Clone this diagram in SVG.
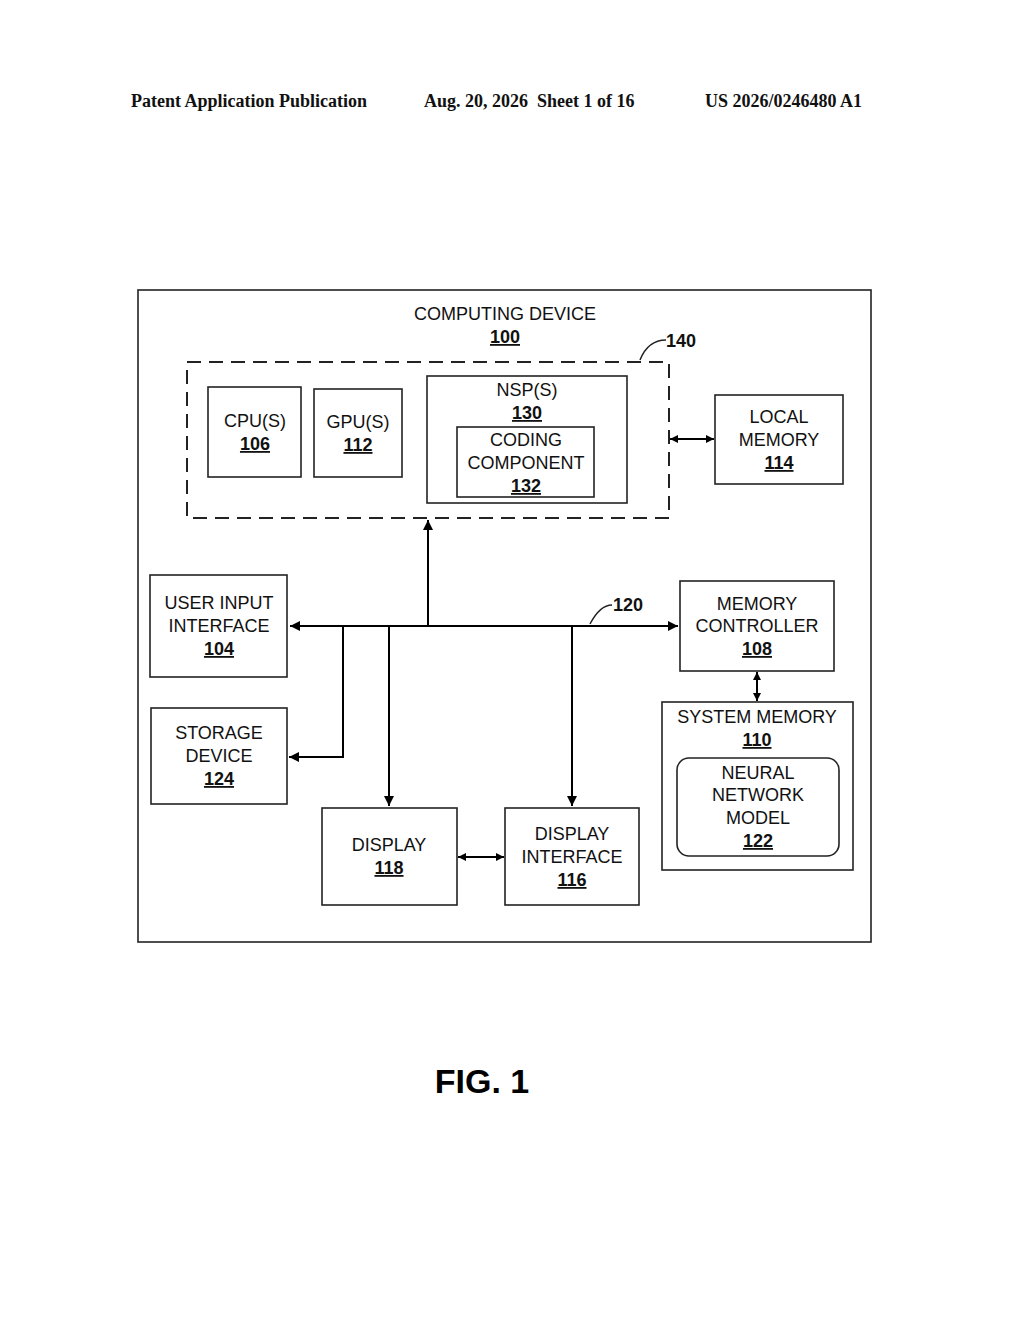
<svg xmlns="http://www.w3.org/2000/svg" width="1024" height="1320" viewBox="0 0 1024 1320">
<defs>
<marker id="ah" viewBox="0 0 10 10" refX="10" refY="5" markerWidth="10" markerHeight="8" markerUnits="userSpaceOnUse" orient="auto-start-reverse"><path d="M0,0 L10,5 L0,10 z" fill="#000"/></marker>
<marker id="ahb" viewBox="0 0 10 10" refX="10" refY="5" markerWidth="16" markerHeight="10" markerUnits="userSpaceOnUse" orient="auto-start-reverse"><path d="M0,0 L10,5 L0,10 z" fill="#000"/></marker>
</defs>
<style>
.b{fill:none;stroke:#222;stroke-width:1.6}
.t{font-family:"Liberation Sans",Arial,sans-serif;font-size:18px;text-anchor:middle;fill:#111}
.n{font-weight:bold;text-decoration:underline}
.c{fill:none;stroke:#000;stroke-width:2}
.h{font-family:"Liberation Serif","Times New Roman",serif;font-size:18px;font-weight:bold;fill:#111}
</style>
<rect width="1024" height="1320" fill="#fff"/>
<text class="h" x="131" y="107">Patent Application Publication</text>
<text class="h" x="424" y="107" xml:space="preserve">Aug. 20, 2026  Sheet 1 of 16</text>
<text class="h" x="705" y="107">US 2026/0246480 A1</text>
<g id="computing-device"><rect class="b" x="138" y="290" width="733" height="652"/>
<text class="t" x="505" y="320">COMPUTING DEVICE</text><text class="t n" x="505" y="343">100</text></g>
<g id="processor-group"><rect x="187" y="362" width="482" height="156" fill="none" stroke="#222" stroke-width="2" stroke-dasharray="14,8"/>
<path d="M640,360 Q648,340 666,340" fill="none" stroke="#222" stroke-width="1.5"/>
<text class="t" x="681" y="347" style="font-weight:bold">140</text></g>
<g id="cpu"><rect class="b" x="208" y="387" width="93" height="90"/><text class="t" x="255" y="427">CPU(S)</text><text class="t n" x="255" y="450">106</text></g>
<g id="gpu"><rect class="b" x="314" y="389" width="88" height="88"/><text class="t" x="358" y="428">GPU(S)</text><text class="t n" x="358" y="451">112</text></g>
<g id="nsp"><rect class="b" x="427" y="376" width="200" height="127"/><text class="t" x="527" y="396">NSP(S)</text><text class="t n" x="527" y="419">130</text></g>
<g id="coding"><rect class="b" x="457" y="427" width="137" height="70"/><text class="t" x="526" y="446">CODING</text><text class="t" x="526" y="469">COMPONENT</text><text class="t n" x="526" y="492">132</text></g>
<g id="local-memory"><rect class="b" x="715" y="395" width="128" height="89"/><text class="t" x="779" y="423">LOCAL</text><text class="t" x="779" y="446">MEMORY</text><text class="t n" x="779" y="469">114</text></g>
<g id="user-input"><rect class="b" x="150" y="575" width="137" height="102"/><text class="t" x="219" y="609">USER INPUT</text><text class="t" x="219" y="632">INTERFACE</text><text class="t n" x="219" y="655">104</text></g>
<g id="storage"><rect class="b" x="151" y="708" width="136" height="96"/><text class="t" x="219" y="739">STORAGE</text><text class="t" x="219" y="762">DEVICE</text><text class="t n" x="219" y="785">124</text></g>
<g id="display"><rect class="b" x="322" y="808" width="135" height="97"/><text class="t" x="389" y="851">DISPLAY</text><text class="t n" x="389" y="874">118</text></g>
<g id="display-interface"><rect class="b" x="505" y="808" width="134" height="97"/><text class="t" x="572" y="840">DISPLAY</text><text class="t" x="572" y="863">INTERFACE</text><text class="t n" x="572" y="886">116</text></g>
<g id="memory-controller"><rect class="b" x="680" y="581" width="154" height="90"/><text class="t" x="757" y="610">MEMORY</text><text class="t" x="757" y="632">CONTROLLER</text><text class="t n" x="757" y="655">108</text></g>
<g id="system-memory"><rect class="b" x="662" y="702" width="191" height="168"/><text class="t" x="757" y="723">SYSTEM MEMORY</text><text class="t n" x="757" y="746">110</text></g>
<g id="neural-network"><rect class="b" x="677" y="758" width="162" height="98" rx="12"/><text class="t" x="758" y="779">NEURAL</text><text class="t" x="758" y="801">NETWORK</text><text class="t" x="758" y="824">MODEL</text><text class="t n" x="758" y="847">122</text></g>
<g id="connectors">
<line class="c" x1="290" y1="626" x2="678" y2="626" marker-start="url(#ahb)" marker-end="url(#ahb)"/>
<line class="c" x1="428" y1="626" x2="428" y2="520" marker-end="url(#ahb)"/>
<polyline class="c" points="343,626 343,757 289,757" marker-end="url(#ahb)"/>
<line class="c" x1="389" y1="626" x2="389" y2="806" marker-end="url(#ahb)"/>
<line class="c" x1="572" y1="626" x2="572" y2="806" marker-end="url(#ahb)"/>
<line class="c" x1="670" y1="439" x2="714" y2="439" stroke-width="1.5" marker-start="url(#ah)" marker-end="url(#ah)"/>
<line class="c" x1="458" y1="857" x2="504" y2="857" stroke-width="1.5" marker-start="url(#ah)" marker-end="url(#ah)"/>
<line class="c" x1="757" y1="672" x2="757" y2="701" stroke-width="1.5" marker-start="url(#ah)" marker-end="url(#ah)"/>
<path d="M590,624 Q600,605 612,605" fill="none" stroke="#222" stroke-width="1.5"/>
<text class="t" x="628" y="611" style="font-weight:bold">120</text>
</g>
<text x="482" y="1093" style="font-family:'Liberation Sans',Arial,sans-serif;font-size:34px;font-weight:bold;text-anchor:middle">FIG. 1</text>
</svg>
